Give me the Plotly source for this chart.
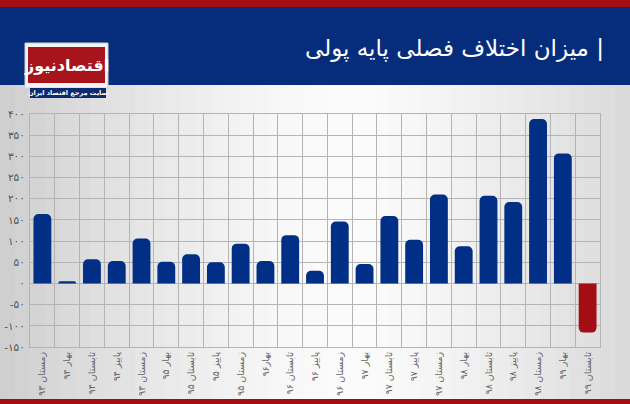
import plotly.graph_objects as go

categories = ["زمستان ۹۳", "بهار ۹۴", "تابستان ۹۴", "پاییز ۹۴", "زمستان ۹۴", "بهار ۹۵",
              "تابستان ۹۵", "پاییز ۹۵", "زمستان ۹۵", "بهار۹۶", "تابستان ۹۶", "پاییز ۹۶",
              "زمستان ۹۶", "بهار ۹۷", "تابستان ۹۷", "پاییز ۹۷", "زمستان ۹۷", "بهار ۹۸",
              "تابستان ۹۸", "پاییز ۹۸", "زمستان ۹۸", "بهار ۹۹", "تابستان ۹۹"]
values = [164, 5, 57, 53, 106, 51, 69, 50, 94, 53, 114, 30, 146, 46, 159, 103, 210, 88,
          207, 192, 388, 307, -116]
y_tickvals = [400, 350, 300, 250, 200, 150, 100, 50, 0, -50, -100, -150]
y_ticktext = ["۴۰۰", "۳۵۰", "۳۰۰", "۲۵۰", "۲۰۰", "۱۵۰", "۱۰۰", "۵۰", "۰", "-۵۰", "-۱۰۰", "-۱۵۰"]
title_text = "میزان اختلاف فصلی پایه پولی |"
logo_text = "اقتصادنیوز"
logo_sub = "سایت مرجع اقتصاد ایران"

BLUE = "#012f86"
RED = "#a30d14"
W, H = 630, 404
L, R, T, B = 30, 30, 114, 57
PW, PH = W - L - R, H - T - B


def px(x):
    return (x - L) / PW


def py(y):
    return (H - B - y) / PH


colors = [BLUE if v >= 0 else RED for v in values]

fig = go.Figure(go.Bar(x=categories, y=values, marker=dict(color=colors, line=dict(width=0)),
                       width=0.72))

shapes = []
# gradient background (stripes)
n = 42
for i in range(n):
    x0 = W * i / n
    x1 = W * (i + 1) / n
    t = (i + 0.5) / n
    d = abs(t - 0.55) / 0.55
    g = int(252 - 46 * d ** 1.4)
    shapes.append(dict(type="rect", xref="paper", yref="paper", x0=px(x0), x1=px(x1) + 0.002,
                       y0=py(400), y1=py(85), fillcolor=f"rgb({g},{g},{g})", line=dict(width=0),
                       layer="below"))
# header bands
shapes.append(dict(type="rect", xref="paper", yref="paper", x0=px(-2), x1=px(W + 2), y0=py(85), y1=py(7),
                   fillcolor="#062c7c", line=dict(width=0), layer="below"))
shapes.append(dict(type="rect", xref="paper", yref="paper", x0=px(-2), x1=px(W + 2), y0=py(7), y1=py(-2),
                   fillcolor=RED, line=dict(width=0), layer="below"))
shapes.append(dict(type="rect", xref="paper", yref="paper", x0=px(-2), x1=px(W + 2), y0=py(406), y1=py(399),
                   fillcolor=RED, line=dict(width=0), layer="below"))
# logo
shapes.append(dict(type="rect", xref="paper", yref="paper", x0=px(25), x1=px(108), y0=py(88), y1=py(43),
                   fillcolor="#f4f4f4", line=dict(color="#d0d0d0", width=1), layer="above"))
shapes.append(dict(type="rect", xref="paper", yref="paper", x0=px(28), x1=px(105), y0=py(83), y1=py(47),
                   fillcolor="#a8141c", line=dict(width=0), layer="above"))
shapes.append(dict(type="rect", xref="paper", yref="paper", x0=px(30), x1=px(106), y0=py(98), y1=py(88),
                   fillcolor="#0d2a6e", line=dict(width=0), layer="above"))

annotations = [
    dict(text=title_text, xref="paper", yref="paper", x=px(606), y=py(48), xanchor="right",
         yanchor="middle", showarrow=False, font=dict(color="white", size=23, family="DejaVu Sans")),
    dict(text="<b>" + logo_text + "</b>", xref="paper", yref="paper", x=px(66.5), y=py(65),
         xanchor="center", yanchor="middle", showarrow=False,
         font=dict(color="white", size=16, family="DejaVu Sans")),
    dict(text="<b>" + logo_sub + "</b>", xref="paper", yref="paper", x=px(68), y=py(93),
         xanchor="center", yanchor="middle", showarrow=False,
         font=dict(color="white", size=6.5, family="DejaVu Sans")),
]

fig.update_layout(
    width=W, height=H, margin=dict(l=L, r=R, t=T, b=B, autoexpand=False),
    paper_bgcolor="#e6e6e6", plot_bgcolor="rgba(255,255,255,0.35)",
    showlegend=False, shapes=shapes, annotations=annotations,
    bargap=0.28, barcornerradius=5,
    font=dict(family="DejaVu Sans", color="#555555"),
)
fig.update_xaxes(type="category", tickson="boundaries", showgrid=True, gridcolor="#b4b4b4",
                 gridwidth=1, tickangle=-90, tickfont=dict(size=9.5, color="#666666"),
                 showline=True, linecolor="#b4b4b4", mirror=True, ticks="", ticklen=0,
                 automargin=False)
fig.update_yaxes(range=[-150, 400], tickvals=y_tickvals, ticktext=y_ticktext, showgrid=True,
                 gridcolor="#b4b4b4", gridwidth=1, zeroline=False, showline=True,
                 linecolor="#b4b4b4", mirror=True, tickfont=dict(size=10.5, color="#555555"),
                 ticks="", ticklabelstandoff=2, automargin=False)

fig.write_html("out.html", config={"displayModeBar": False},
               post_script="document.body.style.margin='0';document.body.style.overflow='hidden';")
